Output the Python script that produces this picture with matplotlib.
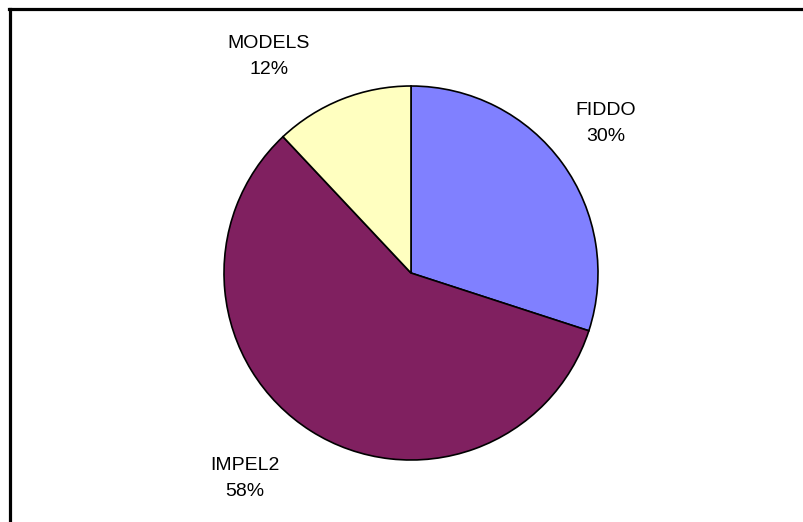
import matplotlib
matplotlib.use('agg')
import matplotlib.pyplot as plt
from matplotlib.lines import Line2D

# Pie data
labels = ['FIDDO', 'IMPEL2', 'MODELS']
shares = [30, 58, 12]
colors = ['#8080FF', '#802060', '#FFFFC0']

# label anchor points (data coords, pie radius = 1)
label_pos = [(1.04, 0.80), (-0.89, -1.10), (-0.76, 1.16)]

W, H = 804, 522
fig = plt.figure(figsize=(W / 100, H / 100), dpi=100)

cx, cy, r = 411, 273, 187
ax = fig.add_axes([(cx - r) / W, (H - cy - r) / H, 2 * r / W, 2 * r / H])
ax.pie(shares, colors=colors, startangle=90, counterclock=False,
       wedgeprops=dict(edgecolor='black', linewidth=1.2))
ax.set_xlim(-1, 1)
ax.set_ylim(-1, 1)
ax.set_aspect('equal')
ax.axis('off')

for lab, val, (x, y) in zip(labels, shares, label_pos):
    ax.text(x, y, f'{lab}\n{val}%', ha='center', va='center',
            fontsize=14, family='Liberation Sans', linespacing=1.7,
            clip_on=False)

# frame (only top and left edges visible)
fig.add_artist(Line2D([9 / W, 1], [1 - 9 / H, 1 - 9 / H], color='black', lw=2.3,
                      transform=fig.transFigure))
fig.add_artist(Line2D([10 / W, 10 / W], [0, 1 - 9 / H], color='black', lw=2.3,
                      transform=fig.transFigure))

fig.savefig('out.png', dpi=100)
